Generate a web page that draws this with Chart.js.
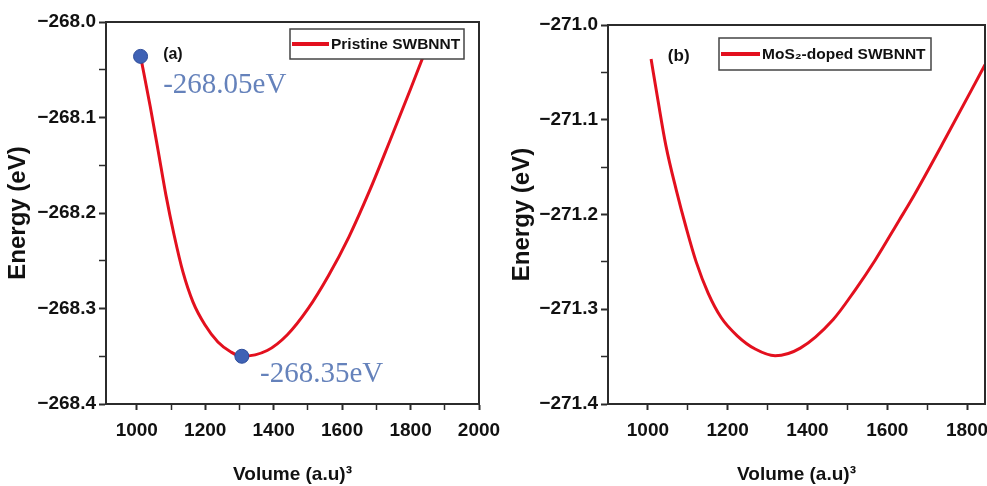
<!DOCTYPE html>
<html>
<head>
<meta charset="utf-8">
<script src="https://cdn.jsdelivr.net/npm/chart.js@4.4.1/dist/chart.umd.min.js"></script>
<style>
  html, body { margin: 0; padding: 0; background: #fff; overflow: hidden; }
  #wrap { position: relative; width: 987px; height: 486px; }
  canvas { position: absolute; top: 0; }
  #chartA { left: 0; }
  #chartB { left: 490px; }
</style>
</head>
<body>
<div id="wrap">
  <canvas id="chartA" width="505" height="486"></canvas>
  <canvas id="chartB" width="497" height="486"></canvas>
</div>
<script>
// panel (a): pristine SWBNNT, energy vs volume
const volumeA = [1011, 1039, 1062, 1085, 1109, 1135, 1164, 1199, 1237, 1275, 1307,
                 1381, 1440, 1500, 1560, 1620, 1680, 1740, 1800, 1852];
const energyA = [-268.036, -268.088, -268.134, -268.181, -268.223, -268.262, -268.293, -268.317, -268.335, -268.3455, -268.350,
                 -268.344, -268.3275, -268.3005, -268.2657, -268.2249, -268.1769, -268.1241, -268.0701, -268.0223];
const markVolA    = [1011, 1307];
const markEnergyA = [-268.036, -268.350];
const markTextA   = ["-268.05eV", "-268.35eV"];
const xTicksA = [1000, 1100, 1200, 1300, 1400, 1500, 1600, 1700, 1800, 1900, 2000];
const yTicksA = [-268.4, -268.35, -268.3, -268.25, -268.2, -268.15, -268.1, -268.05, -268.0];

// panel (b): MoS2-doped SWBNNT
const volumeB = [1008, 1025, 1045, 1071, 1096, 1121, 1151, 1184, 1224, 1269, 1319,
                 1382, 1464, 1519, 1570, 1630, 1660, 1748, 1845];
const energyB = [-271.036, -271.079, -271.127, -271.174, -271.214, -271.250, -271.283, -271.309, -271.328, -271.342, -271.349,
                 -271.341, -271.311, -271.280, -271.248, -271.206, -271.185, -271.118, -271.042];
const xTicksB = [1000, 1100, 1200, 1300, 1400, 1500, 1600, 1700, 1800];
const yTicksB = [-271.4, -271.35, -271.3, -271.25, -271.2, -271.15, -271.1, -271.05, -271.0];

const SANS  = '"Liberation Sans", Arial, sans-serif';
const SERIF = '"Liberation Serif", "Times New Roman", serif';
const INK   = "#2b2b2b";
const RED   = "#e3101e";
const BLUE  = "#3f62b5";

function fmtEnergy(v) { return v.toFixed(1).replace("-", "\u2212"); }
function toPoints(xs, ys) { return xs.map((x, i) => ({ x, y: ys[i] })); }

// plot frame on all four sides
const framePlugin = {
  id: "frame",
  afterDatasetsDraw(chart) {
    const { ctx, chartArea: a } = chart;
    ctx.save();
    ctx.strokeStyle = INK;
    ctx.lineWidth = 2;
    ctx.strokeRect(a.left, a.top, a.right - a.left, a.bottom - a.top);
    ctx.restore();
  }
};

// panel tag, boxed legend and value notes
const notesPlugin = {
  id: "notes",
  afterDraw(chart, args, opts) {
    const { ctx, scales } = chart;
    const sx = v => scales.x.getPixelForValue(v);
    const sy = v => scales.y.getPixelForValue(v);
    ctx.save();

    if (opts.tag) {
      ctx.font = `bold ${opts.tag.size}px ${SANS}`;
      ctx.fillStyle = "#111";
      ctx.textAlign = "left";
      ctx.textBaseline = "middle";
      ctx.fillText(opts.tag.text, sx(opts.tag.x), sy(opts.tag.y));
    }

    if (opts.legend) {
      const L = opts.legend;
      ctx.fillStyle = "#fff";
      ctx.fillRect(L.x, L.y, L.w, L.h);
      ctx.strokeStyle = "#444";
      ctx.lineWidth = 1.5;
      ctx.strokeRect(L.x, L.y, L.w, L.h);
      const mid = L.y + L.h / 2;
      ctx.strokeStyle = RED;
      ctx.lineWidth = 4;
      ctx.beginPath();
      ctx.moveTo(L.x + 2, mid);
      ctx.lineTo(L.x + 2 + L.line, mid);
      ctx.stroke();
      ctx.font = `bold ${L.size}px ${SANS}`;
      ctx.fillStyle = "#111";
      ctx.textAlign = "left";
      ctx.textBaseline = "middle";
      ctx.fillText(chart.data.datasets[0].label, L.x + L.line + 4, mid + 1);
    }

    (opts.notes || []).forEach(n => {
      ctx.font = `${n.size}px ${SERIF}`;
      ctx.fillStyle = "#6582bb";
      ctx.textAlign = "left";
      ctx.textBaseline = "alphabetic";
      ctx.fillText(n.text, sx(n.x), sy(n.y));
    });

    ctx.restore();
  }
};

function makeScales(p) {
  const tickFont = { family: SANS, size: 19, weight: "bold" };
  return {
    x: {
      type: "linear", min: p.xMin, max: p.xMax,
      afterBuildTicks: s => { s.ticks = p.xTicks.map(v => ({ value: v })); },
      afterFit: s => { s.height = 82; s.paddingLeft = 0; s.paddingRight = 0; },
      ticks: {
        autoSkip: false, maxRotation: 0, color: "#111", padding: 9, font: tickFont,
        callback: v => (v % 200 === 0 ? String(v) : "")
      },
      grid: {
        drawOnChartArea: false, tickLength: 6, tickColor: INK,
        tickWidth: c => (c.tick && c.tick.value % 200 === 0 ? 2 : 1.5)
      },
      border: { color: INK, width: 2 },
      title: {
        display: true, text: "Volume (a.u)\u00b3", color: "#111",
        font: { family: SANS, size: 19, weight: "bold" }, padding: { top: 0, bottom: 0 }
      }
    },
    y: {
      type: "linear", min: p.yMin, max: p.yMax,
      afterBuildTicks: s => { s.ticks = p.yTicks.map(v => ({ value: v })); },
      afterFit: s => { s.width = p.yWidth; s.paddingTop = 0; s.paddingBottom = 0; },
      ticks: {
        autoSkip: false, color: "#111", padding: 3, font: tickFont,
        callback: (v, i) => (i % 2 === 0 ? fmtEnergy(v) : "")
      },
      grid: {
        drawOnChartArea: false, tickLength: 7, tickColor: INK,
        tickWidth: c => (c.index % 2 === 0 ? 2 : 1.5)
      },
      border: { color: INK, width: 2 },
      title: {
        display: true, text: "Energy (eV)", color: "#111",
        font: { family: SANS, size: 24, weight: "bold" }, padding: { top: p.yTitlePad, bottom: 0 }
      }
    }
  };
}

function makePanel(canvasId, p) {
  const datasets = [{
    label: p.label,
    data: toPoints(p.vol, p.energy),
    borderColor: RED, borderWidth: 3,
    pointRadius: 0, cubicInterpolationMode: "monotone",
    order: 2
  }];
  if (p.markVol) {
    datasets.push({
      label: "markers",
      data: toPoints(p.markVol, p.markEnergy),
      showLine: false,
      pointRadius: 7, pointBackgroundColor: BLUE, pointBorderColor: "#2d4c9a", pointBorderWidth: 1,
      order: 1
    });
  }
  return new Chart(document.getElementById(canvasId).getContext("2d"), {
    type: "line",
    data: { datasets },
    options: {
      responsive: false, animation: false, devicePixelRatio: 1,
      layout: { padding: p.padding },
      plugins: {
        legend: { display: false }, tooltip: { enabled: false },
        notes: { tag: p.tag, legend: p.legend, notes: p.notes }
      },
      scales: makeScales(p)
    },
    plugins: [framePlugin, notesPlugin]
  });
}

makePanel("chartA", {
  label: "Pristine SWBNNT",
  vol: volumeA, energy: energyA,
  markVol: markVolA, markEnergy: markEnergyA,
  xMin: 910, xMax: 2000, xTicks: xTicksA,
  yMin: -268.4, yMax: -268.0, yTicks: yTicksA,
  yWidth: 106, yTitlePad: 4,
  padding: { top: 22, right: 26, left: 0, bottom: 0 },
  tag: { text: "(a)", x: 1077, y: -268.034, size: 16 },
  legend: { x: 290, y: 29, w: 174, h: 30, line: 37, size: 15.5 },
  notes: [
    { text: markTextA[0], x: 1077, y: -268.0743, size: 29 },
    { text: markTextA[1], x: 1360, y: -268.377, size: 29 }
  ]
});

makePanel("chartB", {
  label: "MoS\u2082-doped SWBNNT",
  vol: volumeB, energy: energyB,
  xMin: 900, xMax: 1845, xTicks: xTicksB,
  yMin: -271.4, yMax: -271.0, yTicks: yTicksB,
  yWidth: 118, yTitlePad: 18,
  padding: { top: 25, right: 2, left: 0, bottom: 0 },
  tag: { text: "(b)", x: 1050, y: -271.033, size: 17 },
  legend: { x: 229, y: 38, w: 212, h: 32, line: 39, size: 15.5 },
  notes: []
});
</script>
</body>
</html>
